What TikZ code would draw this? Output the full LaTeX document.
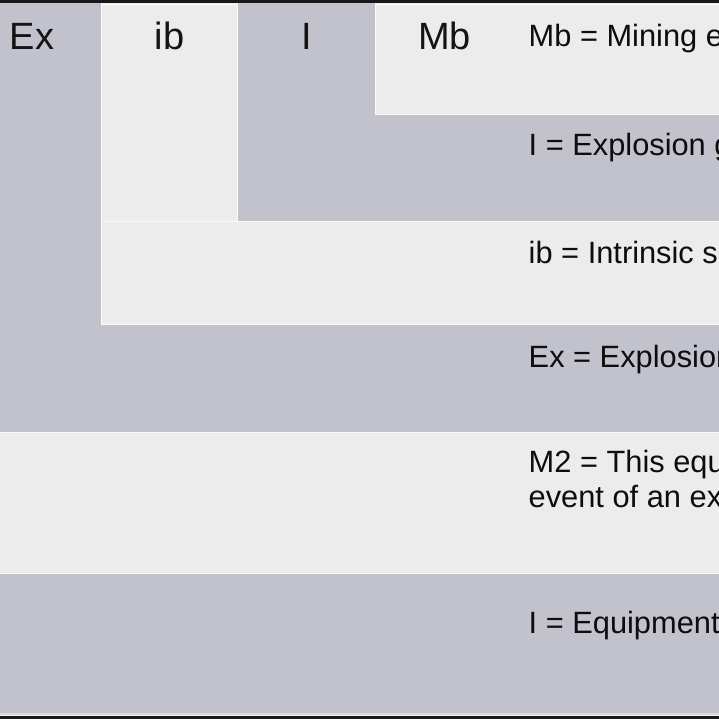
\documentclass[tikz,border=0pt]{standalone}
\usepackage{fontspec}
\setmainfont{Liberation Sans}
\definecolor{band}{RGB}{194,194,204}
\definecolor{pale}{RGB}{236,236,236}
\definecolor{edge}{RGB}{250,250,252}
\begin{document}
\begin{tikzpicture}[x=1pt,y=-1pt,
  head/.style={font=\fontsize{38}{40}\selectfont, anchor=base, inner sep=0pt, text=black!92},
  desc/.style={font=\fontsize{30.8}{35}\selectfont, anchor=base west, inner sep=0pt, text=black!95},
  rim/.style={draw=edge, line width=1.4pt}]
\useasboundingbox (0,0) rectangle (719,719);
\clip (0,0) rectangle (719,719);
% background regions
\fill[pale] (0,0) rectangle (719,719);
\fill[band] (-36,3) rectangle (725,432);
\fill[pale] (101,3) rectangle (725,325);
\fill[band] (238,3) rectangle (725,221);
\fill[pale] (375,3) rectangle (725,115);
\fill[band] (-36,574) rectangle (725,714);
% light rims of the pale regions
\draw[rim] (101.7,3) -- (101.7,324.3) -- (725,324.3);
\draw[rim] (101,221.7) -- (237.3,221.7) -- (237.3,3);
\draw[rim] (238,221.7) -- (725,221.7);
\draw[rim] (375.7,3) -- (375.7,114.3) -- (725,114.3);
\draw[rim] (101,4.3) -- (238,4.3);
\draw[rim] (375,4.3) -- (725,4.3);
\draw[rim] (-36,432.7) -- (725,432.7);
\draw[rim] (-36,573.3) -- (725,573.3);
\draw[draw=band!60!white, line width=1.6pt] (-36,714.2) -- (725,714.2);
% black frame lines
\fill[black!90] (-36,0) rectangle (725,3);
\fill[black!90] (-36,715.5) rectangle (725,719);
% column headers
\node[head] (hEx) at (32,50) {Ex};
\node[head] (hib) at (169.5,50) {ib};
\node[head] (hI) at (306.5,50) {I};
\node[head] (hMb) at (444.5,50) {Mb};
% descriptions
\node[desc] (dMb) at (528.5,47) {Mb = Mining equipment};
\node[desc] (dI) at (528.5,156) {I = Explosion group};
\node[desc] (dib) at (528.5,263) {ib = Intrinsic safety};
\node[desc] (dEx) at (528.5,367) {Ex = Explosion protected};
\node[desc] (dMa) at (528.5,472) {M2 = This equipment};
\node[desc] (dMbb) at (528.5,507) {event of an explosive};
\node[desc] (dEq) at (528.5,633) {I = Equipment group I};
\end{tikzpicture}
\end{document}
